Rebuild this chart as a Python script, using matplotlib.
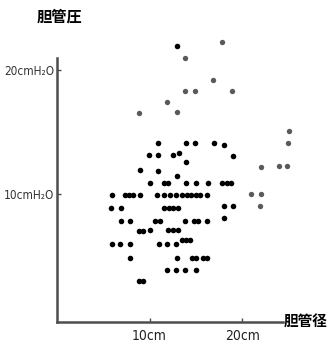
import matplotlib
matplotlib.use("Agg")
import matplotlib.pyplot as plt

# bile duct diameter (cm) vs bile duct pressure (cmH2O)
black_x = [12.93,
           10.92, 13.98, 14.88, 16.97, 18.05,
           9.89, 10.90, 12.57, 13.14, 19.02,
           13.93, 8.92, 10.87, 12.96,
           10.00, 11.55, 12.00, 13.95, 14.98, 16.34, 17.86, 18.31, 18.81,
           5.96, 7.40, 7.76, 8.16, 9.02, 10.79, 11.52, 12.17, 12.87, 13.52,
           14.01, 14.50, 14.98, 15.47, 16.21,
           5.88, 6.97, 11.59, 12.06, 12.55, 13.03, 18.05, 19.05,
           6.89, 7.91, 10.62, 11.16, 13.85, 14.84, 15.28, 16.18, 18.05,
           8.84, 9.27, 10.00, 12.03, 12.52, 13.09,
           5.92, 6.86, 7.91, 10.98, 11.92, 12.87, 13.52, 13.95, 14.41,
           7.94, 12.96, 14.58, 15.04, 15.74, 16.23,
           11.90, 12.89, 13.85, 14.98,
           8.81, 9.30]
black_y = [21.93,
           14.09, 14.09, 14.09, 14.09, 13.99,
           13.14, 13.14, 13.14, 13.28, 13.11,
           12.57, 11.95, 11.87, 11.45,
           10.93, 10.93, 10.93, 10.93, 10.93, 10.93, 10.93, 10.93, 10.93,
           9.95, 9.95, 9.95, 9.95, 9.95, 9.95, 9.95, 9.95, 9.95, 9.95,
           9.95, 9.95, 9.95, 9.95, 9.95,
           8.90, 8.90, 8.90, 8.90, 8.90, 8.90, 9.06, 9.06,
           7.87, 7.87, 7.87, 7.87, 7.87, 7.87, 7.87, 7.87, 8.07,
           7.02, 7.02, 7.10, 7.13, 7.13, 7.13,
           5.98, 5.98, 5.98, 5.98, 5.98, 5.98, 6.32, 6.32, 6.32,
           4.87, 4.87, 4.87, 4.87, 4.87, 4.87,
           3.87, 3.87, 3.87, 3.87,
           3.00, 3.00]

# fainter points (printed lighter in the original)
grey_x = [17.80, 13.87, 16.83, 13.87, 14.91, 18.88, 11.84, 12.96, 8.84,
          25.03, 24.98, 21.99, 23.98, 24.88, 20.94, 21.99, 21.92]
grey_y = [22.25, 20.97, 19.20, 18.33, 18.33, 18.33, 17.43, 16.65, 16.56,
          15.09, 14.15, 12.20, 12.30, 12.30, 10.02, 10.02, 9.06]

x_ticks = [10, 20]
x_ticklabels = ["10cm", "20cm"]
y_ticks = [10, 20]
y_ticklabels = ["10cmH₂O", "20cmH₂O"]

cjk = ["Noto Sans CJK JP", "DejaVu Sans"]
axis_grey = "#4d4d4d"

fig = plt.figure(figsize=(3.29, 3.45), dpi=100)
ax = fig.add_axes([0.173, 0.067, 0.687, 0.765])

ax.scatter(black_x, black_y, s=16, color="black", linewidths=0, clip_on=False)
ax.scatter(grey_x, grey_y, s=15, color="#5a5a5a", linewidths=0, clip_on=False)

ax.set_xlim(0, 24.4)
ax.set_ylim(-0.27, 20.96)

for side in ["top", "right"]:
    ax.spines[side].set_visible(False)
for side in ["left", "bottom"]:
    ax.spines[side].set_color(axis_grey)
    ax.spines[side].set_linewidth(1.8)

ax.set_xticks(x_ticks)
ax.set_xticklabels(x_ticklabels, fontsize=10, fontfamily="DejaVu Sans",
                   fontstretch="condensed", color="#222222")
ax.set_yticks(y_ticks)
ax.set_yticklabels(y_ticklabels, fontsize=8.5, fontfamily="DejaVu Sans",
                   fontstretch="condensed", color="#333333")
ax.tick_params(direction="in", length=3, width=1, color=axis_grey, pad=2)
ax.tick_params(axis="x", pad=5)

fig.text(0.18, 0.953, "胆管圧", family=cjk, fontsize=11, fontweight="bold",
         ha="center", va="center")
fig.text(0.997, 0.07, "胆管径", family=cjk, fontsize=10.5, fontweight="bold",
         ha="right", va="center")

fig.savefig("out.png", dpi=100)
